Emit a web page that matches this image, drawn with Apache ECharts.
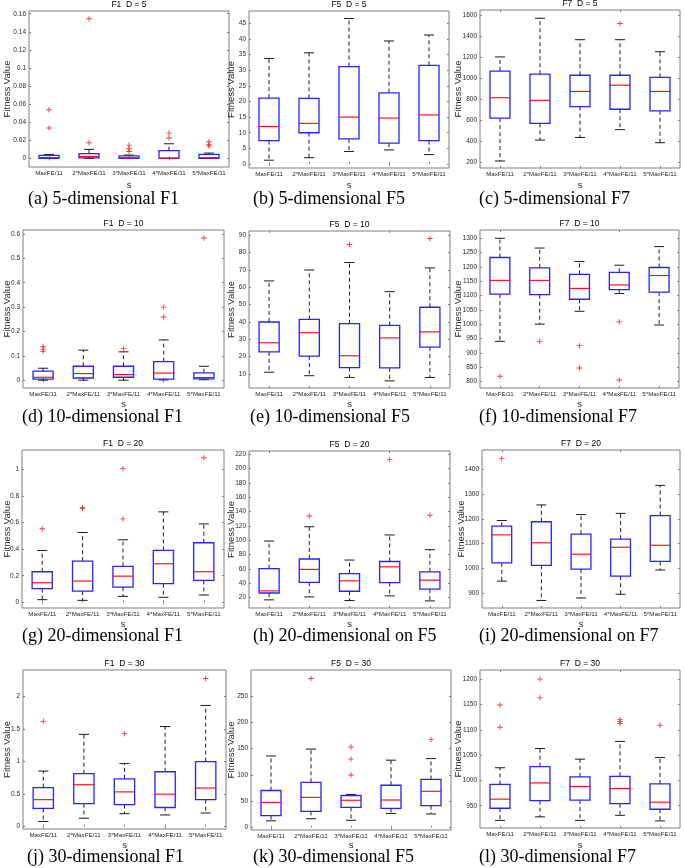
<!DOCTYPE html>
<html>
<head>
<meta charset="utf-8">
<script src="https://cdn.jsdelivr.net/npm/echarts@6/dist/echarts.min.js"></script>
<style>html,body{margin:0;padding:0;background:#fff}#c{width:685px;height:868px}</style>
</head>
<body>
<div id="c"></div>
<script>
// ---------- data ----------
const categories = ['MaxFE/11', '2*MaxFE/11', '3*MaxFE/11', '4*MaxFE/11', '5*MaxFE/11'];

// each box: [lower whisker, Q1, median, Q3, upper whisker]; outliers: [category index, value]
const f1d5Box = [[0, 0.0002, 0.001, 0.0033, 0.0044], [0, 0.0007, 0.0022, 0.0052, 0.0100], [0, 0.0001, 0.0007, 0.0029, 0.0037], [0, 0.0001, 0.0004, 0.0085, 0.0162], [0, 0.0002, 0.0007, 0.0044, 0.0059]];
const f1d5Out = [[0, 0.0538], [0, 0.0336], [1, 0.1545], [1, 0.0173], [2, 0.0147], [2, 0.0107], [2, 0.0077], [3, 0.028], [3, 0.0225], [4, 0.0184], [4, 0.0151], [4, 0.0136]];
const f1d5Ticks = [0, 0.02, 0.04, 0.06, 0.08, 0.1, 0.12, 0.14, 0.16];

const f5d5Box = [[1.2, 7.5, 12, 21.1, 33.8], [2, 10, 13, 21, 35.6], [4, 8, 15, 31.2, 46.6], [4.5, 6.7, 14.7, 22.8, 39.4], [3, 7.5, 15.7, 31.6, 41.3]];
const f5d5Out = [];
const f5d5Ticks = [0, 5, 10, 15, 20, 25, 30, 35, 40, 45];

const f7d5Box = [[210, 620, 815, 1070, 1205], [410, 570, 790, 1040, 1575], [435, 730, 875, 1030, 1370], [510, 705, 935, 1030, 1370], [385, 690, 875, 1010, 1255]];
const f7d5Out = [[3, 1525]];
const f7d5Ticks = [200, 400, 600, 800, 1000, 1200, 1400, 1600];

const f1d10Box = [[0.001, 0.005, 0.013, 0.038, 0.05], [0.001, 0.01, 0.028, 0.058, 0.124], [0.001, 0.013, 0.024, 0.058, 0.117], [0.002, 0.005, 0.03, 0.077, 0.166], [0.003, 0.006, 0.012, 0.031, 0.058]];
const f1d10Out = [[0, 0.138], [0, 0.128], [0, 0.119], [2, 0.13], [3, 0.30], [3, 0.26], [4, 0.583]];
const f1d10Ticks = [0, 0.1, 0.2, 0.3, 0.4, 0.5, 0.6];

const f5d10Box = [[11, 22.7, 28, 40, 63.7], [9, 20.3, 33.8, 41.5, 70], [8, 13.7, 20.5, 39, 74.3], [6, 13.5, 30.8, 38, 57.5], [8, 25.5, 34.3, 48.5, 71.2]];
const f5d10Out = [[2, 84.7], [4, 88.2]];
const f5d10Ticks = [10, 20, 30, 40, 50, 60, 70, 80, 90];

const f7d10Box = [[940, 1105, 1153, 1233, 1300], [1000, 1103, 1153, 1197, 1266], [1045, 1087, 1125, 1174, 1219], [1107, 1121, 1137, 1181, 1206], [997, 1112, 1170, 1198, 1271]];
const f7d10Out = [[0, 818], [1, 940], [2, 925], [2, 847], [3, 1008], [3, 805]];
const f7d10Ticks = [800, 850, 900, 950, 1000, 1050, 1100, 1150, 1200, 1250, 1300];

const f1d20Box = [[0.02, 0.103, 0.147, 0.23, 0.39], [0.015, 0.085, 0.16, 0.31, 0.525], [0.045, 0.115, 0.197, 0.27, 0.47], [0.038, 0.14, 0.29, 0.39, 0.68], [0.055, 0.165, 0.23, 0.448, 0.59]];
const f1d20Out = [[0, 0.553], [1, 0.712], [1, 0.707], [2, 1.005], [2, 0.627], [4, 1.087]];
const f1d20Ticks = [0, 0.2, 0.4, 0.6, 0.8, 1];

const f5d20Box = [[17, 26.5, 29.5, 60.5, 99], [21, 41.5, 59.5, 74, 119], [16, 29, 43.5, 53.5, 72.5], [22.5, 41, 63, 70.5, 107.5], [15.5, 32, 44.5, 56, 87]];
const f5d20Out = [[1, 134], [3, 213], [4, 135]];
const f5d20Ticks = [20, 40, 60, 80, 100, 120, 140, 160, 180, 200, 220];

const f7d20Box = [[948, 1022, 1135, 1170, 1193], [870, 1012, 1103, 1188, 1256], [880, 997, 1057, 1138, 1217], [895, 968, 1085, 1118, 1222], [993, 1028, 1093, 1213, 1335]];
const f7d20Out = [[0, 1443]];
const f7d20Ticks = [900, 1000, 1100, 1200, 1300, 1400];

const f1d30Box = [[0.08, 0.28, 0.415, 0.6, 0.855], [0.13, 0.355, 0.645, 0.815, 1.42], [0.2, 0.34, 0.535, 0.735, 0.97], [0.18, 0.295, 0.5, 0.845, 1.54], [0.21, 0.415, 0.595, 1.0, 1.865]];
const f1d30Out = [[0, 1.62], [2, 1.43], [4, 2.28]];
const f1d30Ticks = [0, 0.5, 1, 1.5, 2];

const f5d30Box = [[13, 23, 48, 70.5, 136], [17, 31, 57.5, 86, 149], [14, 38.5, 52, 61, 63], [27, 36.5, 52.5, 80.5, 128], [26, 42, 69, 91.5, 131]];
const f5d30Out = [[1, 283], [2, 153], [2, 130], [2, 100], [4, 167]];
const f5d30Ticks = [0, 50, 100, 150, 200, 250];

const f7d30Box = [[921, 945, 963, 992, 1025], [928, 960, 995, 1027, 1063], [921, 961, 988, 1007, 1042], [931, 954, 984, 1008, 1077], [920, 943, 957, 993, 1045]];
const f7d30Out = [[0, 1149], [0, 1105], [1, 1200], [1, 1163], [3, 1120], [3, 1116], [3, 1112], [4, 1109]];
const f7d30Ticks = [950, 1000, 1050, 1100, 1150, 1200];

// ---------- layout (pixels) ----------
const panels = [
  {title: 'F1  D = 5', caption: '(a) 5-dimensional F1', box: f1d5Box, out: f1d5Out, ticks: f1d5Ticks, range: [-0.0095, 0.163], frame: [29, 11, 229, 167], ylabX: 7.5, cap: [28, 199], sGap: 18},
  {title: 'F5  D = 5', caption: '(b) 5-dimensional F5', box: f5d5Box, out: f5d5Out, ticks: f5d5Ticks, range: [-1.3, 49], frame: [249, 11, 449, 168], ylabX: 231.5, cap: [253, 199], sGap: 17},
  {title: 'F7  D = 5', caption: '(c) 5-dimensional F7', box: f7d5Box, out: f7d5Out, ticks: f7d5Ticks, range: [143, 1654], frame: [480, 10, 680, 168], ylabX: 458, cap: [479, 199], sGap: 17},
  {title: 'F1  D = 10', caption: '(d) 10-dimensional F1', box: f1d10Box, out: f1d10Out, ticks: f1d10Ticks, range: [-0.031, 0.616], frame: [23, 230, 224, 388], ylabX: 7.5, cap: [22, 417], sGap: 16.5},
  {title: 'F5  D = 10', caption: '(e) 10-dimensional F5', box: f5d10Box, out: f5d10Out, ticks: f5d10Ticks, range: [1.9, 92.5], frame: [249, 231, 450, 388], ylabX: 231.5, cap: [250, 417], sGap: 16.5},
  {title: 'F7  D = 10', caption: '(f) 10-dimensional F7', box: f7d10Box, out: f7d10Out, ticks: f7d10Ticks, range: [777, 1329], frame: [480, 230, 679, 388], ylabX: 458, cap: [479, 417], sGap: 16.5},
  {title: 'F1  D = 20', caption: '(g) 20-dimensional F1', box: f1d20Box, out: f1d20Out, ticks: f1d20Ticks, range: [-0.0425, 1.145], frame: [22, 450, 224, 608], ylabX: 7.5, cap: [22, 636], sGap: 16.5},
  {title: 'F5  D = 20', caption: '(h) 20-dimensional on F5', box: f5d20Box, out: f5d20Out, ticks: f5d20Ticks, range: [5.6, 224.7], frame: [249, 451, 450, 608], ylabX: 231.5, cap: [253, 636], sGap: 16.5},
  {title: 'F7  D = 20', caption: '(i) 20-dimensional on F7', box: f7d20Box, out: f7d20Out, ticks: f7d20Ticks, range: [839.5, 1478], frame: [482, 450, 680, 608], ylabX: 461, cap: [479, 636], sGap: 16.5},
  {title: 'F1  D = 30', caption: '(j) 30-dimensional F1', box: f1d30Box, out: f1d30Out, ticks: f1d30Ticks, range: [-0.036, 2.41], frame: [23, 670, 226, 829], ylabX: 7.5, cap: [27, 857], sGap: 16},
  {title: 'F5  D = 30', caption: '(k) 30-dimensional F5', box: f5d30Box, out: f5d30Out, ticks: f5d30Ticks, range: [-4.4, 299], frame: [251, 670, 451, 830], ylabX: 231.5, cap: [253, 857], sGap: 15},
  {title: 'F7  D = 30', caption: '(l) 30-dimensional F7', box: f7d30Box, out: f7d30Out, ticks: f7d30Ticks, range: [906, 1218], frame: [480, 670, 680, 828], ylabX: 458, cap: [479, 857], sGap: 17}
];

const FRAME = '#7f7f7f';
const TXT = '#262626';
const SANS = 'Liberation Sans';
const PLUS = 'path://M0.42,0 H0.58 V0.42 H1 V0.58 H0.58 V1 H0.42 V0.58 H0 V0.42 H0.42 Z';

function fmt(v) { return String(+(+v).toFixed(6)); }

function renderBox(params, api) {
  const x = api.value(0);
  const lw = api.value(1), q1 = api.value(2), md = api.value(3), q3 = api.value(4), uw = api.value(5);
  const band = api.size([1, 0])[0];
  const bw = band * 0.5, cw = band * 0.25;
  const pL = api.coord([x, lw]), p1 = api.coord([x, q1]), pM = api.coord([x, md]), p3 = api.coord([x, q3]), pU = api.coord([x, uw]);
  const cx = pL[0];
  const dash = {stroke: '#000', lineWidth: 0.9, lineDash: [4, 3]};
  const solid = {stroke: '#000', lineWidth: 0.9};
  return {
    type: 'group',
    children: [
      {type: 'line', shape: {x1: cx, y1: p3[1], x2: cx, y2: pU[1]}, style: dash},
      {type: 'line', shape: {x1: cx, y1: p1[1], x2: cx, y2: pL[1]}, style: dash},
      {type: 'line', shape: {x1: cx - cw / 2, y1: pU[1], x2: cx + cw / 2, y2: pU[1]}, style: solid},
      {type: 'line', shape: {x1: cx - cw / 2, y1: pL[1], x2: cx + cw / 2, y2: pL[1]}, style: solid},
      {type: 'rect', shape: {x: cx - bw / 2, y: p3[1], width: bw, height: p1[1] - p3[1]}, style: {fill: null, stroke: '#2424ff', lineWidth: 1.3}},
      {type: 'line', shape: {x1: cx - bw / 2, y1: pM[1], x2: cx + bw / 2, y2: pM[1]}, style: {stroke: '#ff0000', lineWidth: 1.1}}
    ]
  };
}

const grid = [], xAxis = [], yAxis = [], series = [], elements = [];
panels.forEach((p, i) => {
  const [L, T, R, B] = p.frame;
  grid.push({left: L, top: T, width: R - L, height: B - T, show: true, borderColor: FRAME, borderWidth: 1, containLabel: false, outerBoundsMode: 'none'});
  xAxis.push({
    type: 'category', gridIndex: i, data: categories, position: 'bottom',
    axisLine: {show: false}, splitLine: {show: false},
    axisTick: {show: true, inside: true, alignWithLabel: true, length: 2, lineStyle: {color: FRAME}},
    axisLabel: {show: true, fontSize: 6.2, fontFamily: SANS, color: TXT, margin: 3, interval: 0}
  });
  xAxis.push({
    type: 'category', gridIndex: i, data: categories, position: 'top',
    axisLine: {show: false}, splitLine: {show: false},
    axisTick: {show: true, inside: true, alignWithLabel: true, length: 2, lineStyle: {color: FRAME}},
    axisLabel: {show: false}
  });
  yAxis.push({
    type: 'value', gridIndex: i, min: p.range[0], max: p.range[1], position: 'left',
    axisLine: {show: false}, splitLine: {show: false},
    axisTick: {show: true, inside: true, length: 2, customValues: p.ticks, lineStyle: {color: FRAME}},
    axisLabel: {show: true, customValues: p.ticks, formatter: fmt, fontSize: 6.5, fontFamily: SANS, color: TXT, margin: 3}
  });
  yAxis.push({
    type: 'value', gridIndex: i, min: p.range[0], max: p.range[1], position: 'right',
    axisLine: {show: false}, splitLine: {show: false},
    axisTick: {show: true, inside: true, length: 2, customValues: p.ticks, lineStyle: {color: FRAME}},
    axisLabel: {show: false}
  });
  series.push({
    type: 'custom', xAxisIndex: 2 * i, yAxisIndex: 2 * i,
    renderItem: renderBox,
    dimensions: ['cat', 'lw', 'q1', 'med', 'q3', 'uw'],
    encode: {x: 0, y: [1, 2, 3, 4, 5]},
    data: p.box.map((b, k) => [k].concat(b)),
    clip: false, z: 2
  });
  series.push({
    type: 'scatter', xAxisIndex: 2 * i, yAxisIndex: 2 * i,
    symbol: PLUS, symbolSize: 5.5,
    itemStyle: {color: '#ff0000'},
    data: p.out, z: 3
  });
  const cx = (L + R) / 2;
  elements.push({type: 'text', x: cx, y: T - 6, style: {text: p.title, font: '8.5px "Liberation Sans"', fill: '#000', align: 'center', verticalAlign: 'middle'}});
  elements.push({type: 'text', x: p.ylabX, y: (T + B) / 2, rotation: Math.PI / 2, style: {text: 'Fitness Value', font: '9.5px "Liberation Sans"', fill: TXT, align: 'center', verticalAlign: 'middle'}});
  elements.push({type: 'text', x: cx, y: B + p.sGap, style: {text: 's', font: '9.5px "Liberation Sans"', fill: TXT, align: 'center', verticalAlign: 'middle'}});
  elements.push({type: 'text', x: p.cap[0], y: p.cap[1], style: {text: p.caption, font: '18px "Liberation Serif"', fill: '#000', align: 'left', verticalAlign: 'middle'}});
});

const chart = echarts.init(document.getElementById('c'), null, {renderer: 'canvas'});
chart.setOption({
  animation: false,
  backgroundColor: '#ffffff',
  grid: grid, xAxis: xAxis, yAxis: yAxis, series: series,
  graphic: {elements: elements}
});
</script>
</body>
</html>
